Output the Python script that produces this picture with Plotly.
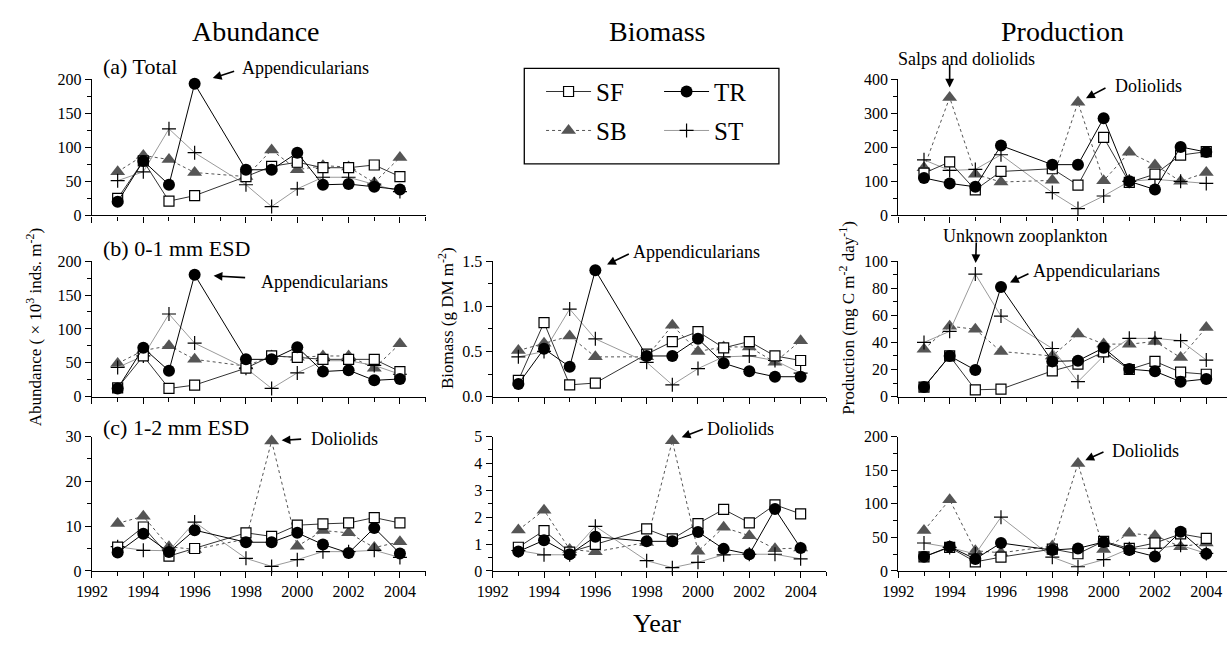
import plotly.graph_objects as go

W, H = 1227, 651
FONT = "Liberation Serif, Times New Roman, serif"

years = [1993, 1994, 1995, 1996, 1998, 1999, 2000, 2001, 2002, 2003, 2004]
stations = ["SF", "TR", "SB", "ST"]

# Abundance (x10^3 inds. m^-2)
ab_tot = {
    "SF": [25, 80, 21, 29, 57, 72, 78, 70, 70, 74, 57],
    "TR": [20, 80, 45, 193, 67, 67, 92, 45, 46, 42, 38],
    "SB": [64, 88, 82, 63, 57, 96, 67, 73, 71, 48, 85],
    "ST": [51, 64, 127, 92, 45, 13, 39, 56, 56, 46, 35],
}
ab_01 = {
    "SF": [13, 60, 12, 17, 42, 60, 58, 55, 55, 55, 37],
    "TR": [12, 72, 38, 180, 55, 55, 73, 37, 39, 24, 26],
    "SB": [49, 68, 75, 55, 45, 60, 58, 60, 60, 42, 78],
    "ST": [43, 60, 122, 79, 42, 12, 35, 53, 53, 46, 33],
}
ab_12 = {
    "SF": [5.3, 9.8, 3.3, 5.0, 8.5, 7.7, 10.2, 10.5, 10.7, 11.9, 10.7],
    "TR": [4.1, 8.3, 4.2, 9.1, 6.4, 6.4, 8.5, 5.9, 4.0, 9.6, 3.9],
    "SB": [10.6, 12.2, 5.4, 4.8, 7.1, 29.0, 5.5, 9.0, 8.5, 5.2, 6.5],
    "ST": [5.4, 4.6, 4.5, 10.9, 2.8, 1.0, 2.5, 4.3, 4.3, 4.6, 3.0],
}
# Biomass (g DM m^-2)
bm_01 = {
    "SF": [0.18, 0.82, 0.13, 0.15, 0.47, 0.61, 0.72, 0.54, 0.61, 0.45, 0.40],
    "TR": [0.14, 0.53, 0.33, 1.40, 0.45, 0.45, 0.64, 0.37, 0.28, 0.22, 0.22],
    "SB": [0.51, 0.59, 0.67, 0.44, 0.44, 0.79, 0.50, 0.55, 0.55, 0.38, 0.62],
    "ST": [0.44, 0.50, 0.97, 0.64, 0.38, 0.13, 0.31, 0.44, 0.45, 0.40, 0.26],
}
bm_12 = {
    "SF": [0.88, 1.50, 0.70, 0.99, 1.56, 1.19, 1.76, 2.29, 1.79, 2.46, 2.12],
    "TR": [0.72, 1.14, 0.62, 1.27, 1.10, 1.10, 1.45, 0.82, 0.62, 2.30, 0.85],
    "SB": [1.52, 2.26, 0.80, 0.71, 1.06, 4.84, 0.73, 1.62, 1.31, 0.82, 0.85],
    "ST": [0.76, 0.60, 0.60, 1.66, 0.38, 0.12, 0.32, 0.60, 0.62, 0.62, 0.45],
}
# Production (mg C m^-2 day^-1)
pr_tot = {
    "SF": [124, 157, 75, 129, 137, 89, 229, 97, 121, 177, 187],
    "TR": [110, 94, 84, 205, 149, 149, 285, 100, 76, 201, 186],
    "SB": [140, 346, 121, 98, 103, 332, 102, 185, 148, 100, 126],
    "ST": [163, 132, 135, 178, 67, 20, 57, 100, 106, 100, 94],
}
pr_01 = {
    "SF": [7, 30, 5, 5.5, 19, 24, 33, 20, 26, 18, 16.5],
    "TR": [7, 30, 19.6, 81, 26, 26.5, 36, 20.3, 18.7, 11, 13],
    "SB": [35, 52, 49.7, 33.3, 30, 46.3, 38.8, 38.7, 40.7, 28.8, 51],
    "ST": [40, 48.2, 90.5, 59.5, 35.5, 11, 30, 43, 43, 41.3, 27],
}
pr_12 = {
    "SF": [21, 35, 13.5, 20.5, 32.5, 25.5, 44, 33.5, 41.5, 55, 48.5],
    "TR": [21, 36, 17.7, 41.5, 31, 33.5, 43, 31, 21.5, 58.4, 25.4],
    "SB": [60, 106, 30, 27, 37, 160, 32, 56, 52.5, 36, 41.5],
    "ST": [41.5, 35, 25, 80, 20.5, 6.2, 16.7, 33, 33.5, 38, 26],
}

styles = {
    "SF": dict(line=dict(color="#333333", width=1),
               marker=dict(symbol="square", size=10, color="white",
                           line=dict(color="black", width=1.2))),
    "TR": dict(line=dict(color="black", width=1),
               marker=dict(symbol="circle", size=12, color="black",
                           line=dict(color="black", width=0))),
    "SB": dict(line=dict(color="#555555", width=1, dash="dot"),
               marker=dict(symbol="triangle-up", size=13, color="#555555",
                           line=dict(color="#555555", width=0))),
    "ST": dict(line=dict(color="#9a9a9a", width=1),
               marker=dict(symbol="cross-thin", size=10, color="black",
                           line=dict(color="black", width=1.2))),
}
draw_order = ["SB", "ST", "SF", "TR"]

# pixel layout
px_per_year = 26
col_x = {1: 77, 2: 483, 3: 894}
row_y = {1: (73, 213), 2: (260, 399), 3: (440, 578)}

# panel: (col, row, data, ymax, dtick, minor, tickformat)
panels = [
    (1, 1, ab_tot, 200, 50, 25, None),
    (1, 2, ab_01, 200, 50, 25, None),
    (1, 3, ab_12, 30, 10, 5, None),
    (2, 2, bm_01, 1.5, 0.5, 0.25, ".1f"),
    (2, 3, bm_12, 5, 1, 0.5, None),
    (3, 1, pr_tot, 400, 100, 50, None),
    (3, 2, pr_01, 100, 20, 10, None),
    (3, 3, pr_12, 200, 50, 25, None),
]

fig = go.Figure()
layout = {}
first = True
for k, (col, row, data, ymax, dt, mdt, fmt) in enumerate(panels, start=1):
    xs = "" if k == 1 else str(k)
    x0 = col_x[col]
    x1 = min(x0 + 13 * px_per_year, W)
    xmax = 1992 + (x1 - x0) / px_per_year
    top, bot = row_y[row]
    axis_common = dict(showline=True, linecolor="black", linewidth=1.4,
                       ticks="outside", ticklen=6, tickwidth=1.3, tickcolor="black",
                       showgrid=False, zeroline=False,
                       tickfont=dict(family=FONT, size=16, color="black"))
    layout["xaxis" + xs] = dict(
        domain=[x0 / W, x1 / W], anchor="y" + xs, range=[1992, xmax],
        tick0=1992, dtick=2, showticklabels=(row == 3),
        minor=dict(dtick=1, ticks="outside", ticklen=4, tickwidth=1.3, tickcolor="black"),
        **axis_common)
    yax = dict(domain=[1 - bot / H, 1 - top / H], anchor="x" + xs, range=[0, ymax],
               tick0=0, dtick=dt,
               minor=dict(dtick=mdt, ticks="outside", ticklen=4, tickwidth=1.3, tickcolor="black"),
               **axis_common)
    if fmt:
        yax["tickformat"] = fmt
    layout["yaxis" + xs] = yax
    for s in draw_order:
        st = styles[s]
        fig.add_trace(go.Scatter(
            x=years, y=data[s], mode="lines+markers", name=s,
            line=st["line"], marker=st["marker"], cliponaxis=False,
            xaxis="x" + xs, yaxis="y" + xs,
            showlegend=first,
            legend="legend" if s in ("SF", "TR") else "legend2",
        ))
    first = False

def ax_ref(k):
    s = "" if k == 1 else str(k)
    return "x" + s, "y" + s

annotations = []
def txt(text, x, y, size=18, xanchor="left", yanchor="middle", angle=0):
    annotations.append(dict(text=text, x=x / W, y=1 - y / H, xref="paper", yref="paper",
                            xanchor=xanchor, yanchor=yanchor, showarrow=False,
                            textangle=angle,
                            font=dict(family=FONT, size=size, color="black")))

def arrow(k, xval, yval, ax, ay, standoff):
    xr, yr = ax_ref(k)
    annotations.append(dict(text="", x=xval, y=yval, xref=xr, yref=yr,
                            ax=ax, ay=ay, axref="pixel", ayref="pixel",
                            showarrow=True, arrowhead=2, arrowsize=1.1, arrowwidth=1.6,
                            arrowcolor="black", standoff=standoff))

# column titles
txt("Abundance", 243, 24, size=28, xanchor="center")
txt("Biomass", 649, 24, size=28, xanchor="center")
txt("Production", 1060, 24, size=28, xanchor="center")
txt("Year", 649, 632, size=26, xanchor="center")

# panel labels
txt("(a) Total", 86, 60, size=22)
txt("(b) 0-1 mm ESD", 86, 247, size=22)
txt("(c) 1-2 mm ESD", 86, 431, size=22)

# y-axis titles
txt("Abundance ( × 10<sup>3</sup> inds. m<sup>-2</sup>)", 19, 328, size=17, xanchor="center", angle=-90)
txt("Biomass (g DM m<sup>-2</sup>)", 435, 318, size=17, xanchor="center", angle=-90)
txt("Production (mg C m<sup>-2</sup> day<sup>-1</sup>)", 842, 318, size=17, xanchor="center", angle=-90)

i96 = years.index(1996)
i99 = years.index(1999)
i94 = years.index(1994)
i95 = years.index(1995)

# Abundance (a)
arrow(1, years[i96], ab_tot["TR"][i96], 41, -13, 19)
txt("Appendicularians", 227, 62)
# Abundance (b)
arrow(2, years[i96], ab_01["TR"][i96], 52, 3, 19)
txt("Appendicularians", 246, 281)
# Abundance (c)
arrow(3, years[i99], ab_12["SB"][i99], 31, -2, 10)
txt("Doliolids", 297, 443)
# Biomass (b)
arrow(4, years[i96], bm_01["TR"][i96], 35, -17, 13)
txt("Appendicularians", 623, 251)
# Biomass (c)
arrow(5, years[i99], bm_12["SB"][i99], 32, -12, 10)
txt("Doliolids", 698, 432)
# Production (a)
arrow(6, years[i94], pr_tot["SB"][i94], 0, -34, 10)
txt("Salps and doliolids", 892, 52)
arrow(6, years[i99], pr_tot["SB"][i99], 29, -15, 9)
txt("Doliolids", 1112, 80)
# Production (b)
arrow(7, years[i95], pr_01["ST"][i95], 1, -33, 11)
txt("Unknown zooplankton", 937, 234)
arrow(7, years[i96], pr_01["TR"][i96], 29, -14, 10)
txt("Appendicularians", 1028, 270)
# Production (c)
arrow(8, years[i99], pr_12["SB"][i99], 27, -12, 8)
txt("Doliolids", 1108, 455)

legend_common = dict(orientation="h", xanchor="left", yanchor="middle",
                     bgcolor="rgba(0,0,0,0)", borderwidth=0,
                     font=dict(family=FONT, size=25, color="black"),
                     entrywidth=58, entrywidthmode="pixels", itemwidth=45)
layout["legend"] = dict(x=532 / W, y=1 - 86 / H, **legend_common)
layout["legend2"] = dict(x=532 / W, y=1 - 126 / H, **legend_common)

fig.update_layout(
    width=W, height=H, margin=dict(l=0, r=0, t=0, b=0),
    paper_bgcolor="white", plot_bgcolor="white",
    font=dict(family=FONT, color="black"),
    annotations=annotations,
    shapes=[dict(type="rect", xref="paper", yref="paper",
                 x0=515 / W, x1=773 / W, y0=1 - 160 / H, y1=1 - 62 / H,
                 line=dict(color="black", width=1.3))],
    **layout,
)

fig.write_html("out.html")
